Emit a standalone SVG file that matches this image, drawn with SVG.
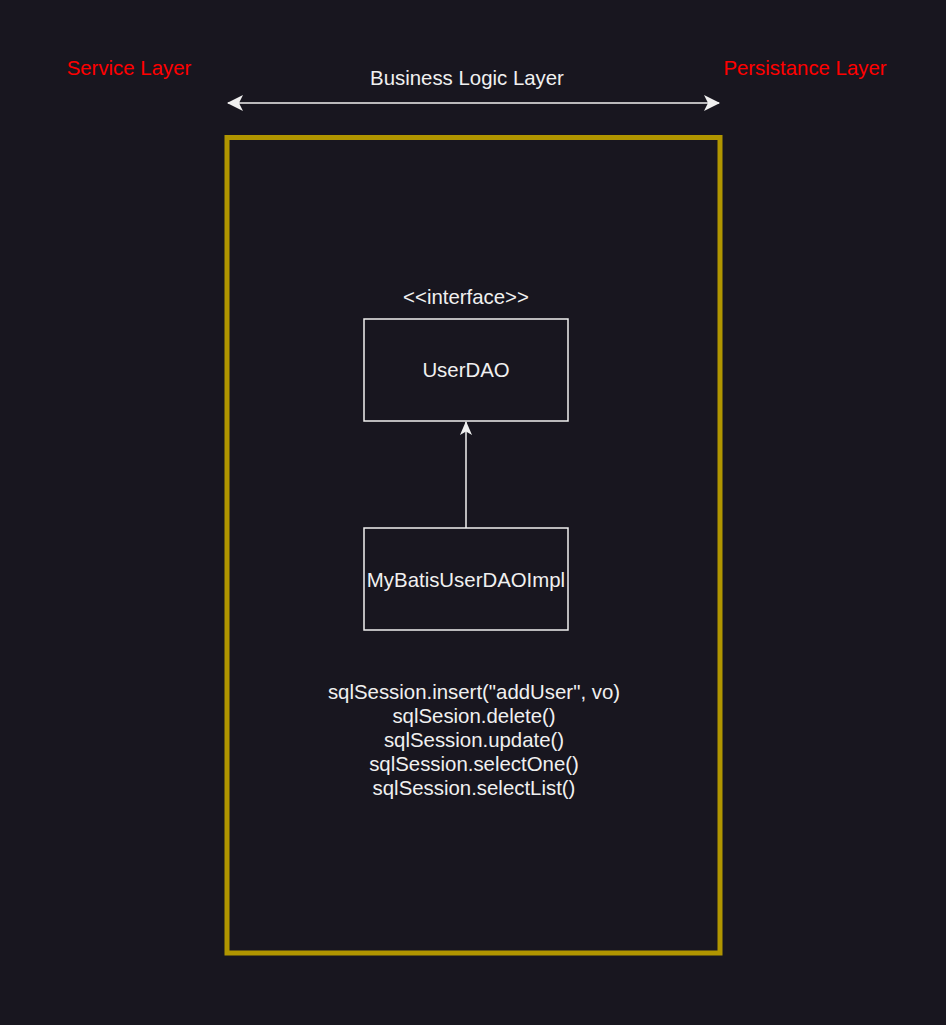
<svg xmlns="http://www.w3.org/2000/svg" width="946" height="1025" viewBox="0 0 946 1025">
  <style>
    .t { font-family: "Liberation Sans", Arial, sans-serif; font-size: 20.4px; fill: #f0f0f0; text-anchor: middle; }
    .red { fill: #ff0000; }
    .box { fill: #18161f; stroke: #f0f0f0; stroke-width: 1.5; }
    .edge { fill: none; stroke: #f0f0f0; stroke-width: 1.5; }
  </style>
  <defs>
    <marker id="ah" viewBox="0 0 14 12" refX="13" refY="6" markerWidth="14" markerHeight="12" markerUnits="userSpaceOnUse" orient="auto-start-reverse">
      <path d="M0,0 L14,6 L0,12 L3.5,6 Z" fill="#f0f0f0"/>
    </marker>
    <marker id="ah2" viewBox="0 0 16 16" refX="15" refY="8" markerWidth="16" markerHeight="16" markerUnits="userSpaceOnUse" orient="auto-start-reverse">
      <path d="M0,0 L16,8 L0,16 L4,8 Z" fill="#f0f0f0"/>
    </marker>
  </defs>
  <rect x="0" y="0" width="946" height="1025" fill="#18161f"/>

  <g id="service-layer">
    <text class="t red" x="129" y="75">Service Layer</text>
  </g>
  <g id="persistance-layer">
    <text class="t red" x="805" y="75">Persistance Layer</text>
  </g>
  <g id="business-logic-layer">
    <text class="t" x="467" y="85">Business Logic Layer</text>
  </g>
  <g id="container">
    <rect x="227" y="137.5" width="493" height="815.5" fill="none" stroke="#b09500" stroke-width="5"/>
  </g>
  <g id="userdao">
    <text class="t" x="466" y="304">&lt;&lt;interface&gt;&gt;</text>
    <rect class="box" x="364" y="319" width="204" height="102"/>
    <text class="t" x="466" y="377">UserDAO</text>
  </g>
  <g id="mybatis-impl">
    <rect class="box" x="364" y="528" width="204" height="102"/>
    <text class="t" x="466" y="587">MyBatisUserDAOImpl</text>
  </g>
  <g id="sql-text">
    <text class="t" x="474" y="699">sqlSession.insert("addUser", vo)</text>
    <text class="t" x="474" y="723">sqlSesion.delete()</text>
    <text class="t" x="474" y="747">sqlSession.update()</text>
    <text class="t" x="474" y="771">sqlSession.selectOne()</text>
    <text class="t" x="474" y="795">sqlSession.selectList()</text>
  </g>
  <g id="connectors">
    <line class="edge" x1="228" y1="103" x2="719" y2="103" stroke-width="2" marker-start="url(#ah2)" marker-end="url(#ah2)"/>
    <line class="edge" x1="466" y1="528" x2="466" y2="422" marker-end="url(#ah)"/>
  </g>
</svg>
